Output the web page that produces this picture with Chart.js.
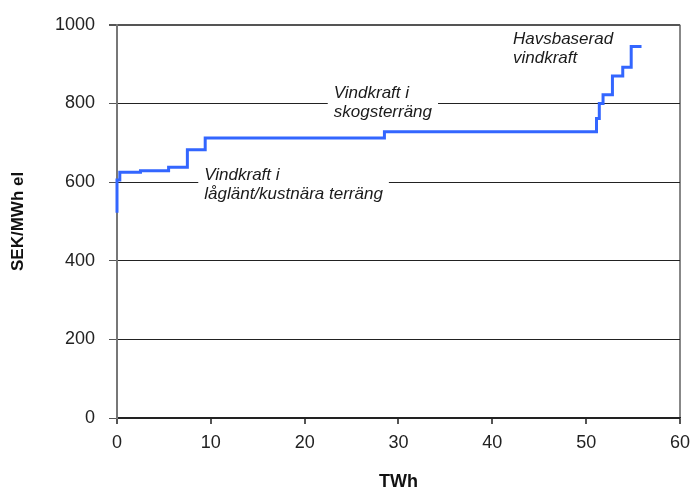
<!DOCTYPE html>
<html>
<head>
<meta charset="utf-8">
<script src="https://cdn.jsdelivr.net/npm/chart.js@4"></script>
<style>
  html, body { margin: 0; padding: 0; background: #fff; }
  #wrap { width: 698px; height: 488px; }
</style>
</head>
<body>
<div id="wrap"><canvas id="graf" width="698" height="488"></canvas></div>
<script>
// Stegkurva: x = TWh där nivån börjar, y = SEK/MWh el
const twh = [0, 0, 0.3, 2.5, 5.5, 7.5, 9.4, 28.5, 51.1, 51.4, 51.8, 52.8, 53.9, 54.8, 55.9];
const kostnad = [522, 605, 625, 629, 638, 682, 712, 728, 762, 800, 822, 870, 892, 945, 945];

const xTicks = [0, 10, 20, 30, 40, 50, 60];
const yTicks = [0, 200, 400, 600, 800, 1000];

// textetiketter i diagrammet (x, y i dataenheter)
const etiketter = [
  { x: 9.3, y: 605, rader: ["Vindkraft i", "låglänt/kustnära terräng"], bakgrund: true },
  { x: 23.1, y: 813, rader: ["Vindkraft i", "skogsterräng"], bakgrund: true },
  { x: 42.2, y: 950, rader: ["Havsbaserad", "vindkraft"], bakgrund: false }
];

const punkter = twh.map((x, i) => ({ x: x, y: kostnad[i] }));

const etikettPlugin = {
  id: "etiketter",
  afterDatasetsDraw(chart) {
    const ctx = chart.ctx;
    const xs = chart.scales.x, ys = chart.scales.y;
    ctx.save();
    ctx.font = "italic 17px 'Liberation Sans', Arial, sans-serif";
    ctx.textBaseline = "alphabetic";
    etiketter.forEach(e => {
      const px = xs.getPixelForValue(e.x);
      const py = ys.getPixelForValue(e.y);
      if (e.bakgrund) {
        const w = Math.max(...e.rader.map(r => ctx.measureText(r).width));
        ctx.fillStyle = "#fff";
        ctx.fillRect(px - 6, py - 14, w + 12, 38);
      }
      ctx.fillStyle = "#1a1a1a";
      e.rader.forEach((r, i) => ctx.fillText(r, px, py + i * 19));
    });
    ctx.restore();
  }
};

new Chart(document.getElementById("graf").getContext("2d"), {
  type: "line",
  data: {
    datasets: [{
      data: punkter,
      borderColor: "#3366ff",
      borderWidth: 3,
      stepped: "before",
      pointRadius: 0,
      fill: false,
      clip: 6
    }]
  },
  options: {
    responsive: false,
    animation: false,
    layout: { padding: { top: 20, right: 14, left: 0, bottom: 0 } },
    plugins: { legend: { display: false }, tooltip: { enabled: false } },
    scales: {
      x: {
        type: "linear",
        min: 0,
        max: 60,
        afterBuildTicks: s => { s.ticks = xTicks.map(v => ({ value: v })); },
        afterFit: s => { s.height = 70; },
        grid: {
          drawOnChartArea: true,
          color: c => c.tick && c.tick.value === 60 ? "#888" : "rgba(0,0,0,0)",
          lineWidth: 2,
          tickColor: "#555",
          tickLength: 6
        },
        border: { color: "#222", width: 1.5 },
        ticks: { color: "#222", padding: 8, callback: v => String(v), font: { size: 18, family: "'Liberation Sans', Arial" } },
        title: {
          display: true,
          text: "TWh",
          color: "#111",
          padding: { top: 0, bottom: -5 },
          font: { size: 18, weight: "bold", family: "'Liberation Sans', Arial" }
        }
      },
      y: {
        min: 0,
        max: 1000,
        afterBuildTicks: s => { s.ticks = yTicks.map(v => ({ value: v })); },
        afterFit: s => { s.width = 117; },
        grid: {
          color: c => c.tick && c.tick.value === 1000 ? "#555" : "#222",
          lineWidth: c => c.tick && c.tick.value === 1000 ? 2 : 1,
          tickColor: "#555",
          tickLength: 8
        },
        border: { color: "#777", width: 2 },
        ticks: { color: "#222", padding: 14, callback: v => String(v), font: { size: 18, family: "'Liberation Sans', Arial" } },
        title: {
          display: true,
          text: "SEK/MWh el",
          color: "#111",
          padding: { top: 8, bottom: 0 },
          font: { size: 17, weight: "bold", family: "'Liberation Sans', Arial" }
        }
      }
    }
  },
  plugins: [etikettPlugin]
});
</script>
</body>
</html>
